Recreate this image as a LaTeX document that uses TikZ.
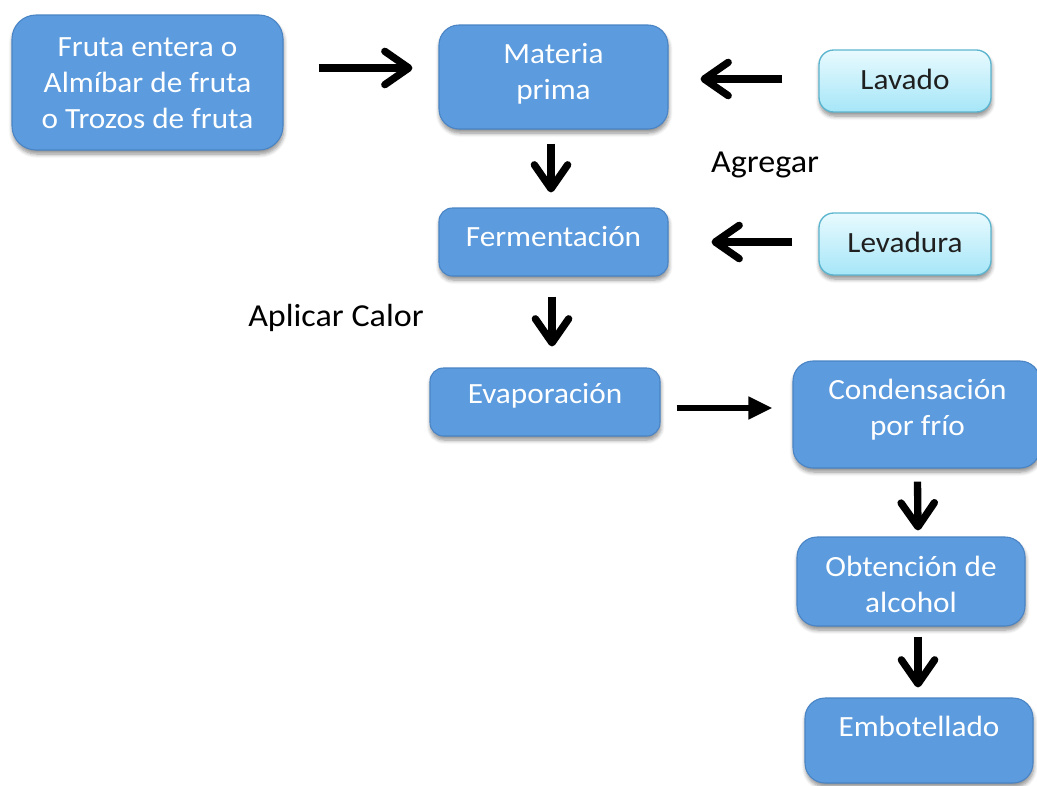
\documentclass[tikz,border=0pt]{standalone}
\usepackage{fontspec}
\setmainfont[FakeStretch=1.065]{Carlito}
\usetikzlibrary{arrows.meta,shadows.blur,fit,calc}
\definecolor{boxblue}{HTML}{5B9BDE}
\definecolor{boxedge}{HTML}{4A84C4}
\definecolor{cyantop}{HTML}{E8FAFE}
\definecolor{cyanbot}{HTML}{A6E6F8}
\definecolor{cyanedge}{HTML}{5CB5CF}
\tikzset{
  x=0.75pt, y=-0.75pt,
  boxshadow/.style={blur shadow={shadow blur steps=6, shadow blur radius=3pt, shadow yshift=-3pt, shadow xshift=0.5pt, shadow opacity=45}},
  bluebox/.style={draw=boxedge, line width=0.8pt, fill=boxblue, inner sep=0pt, boxshadow},
  cyanbox/.style={draw=cyanedge, line width=1pt, top color=cyantop, bottom color=cyanbot, inner sep=0pt, rounded corners=11pt, boxshadow},
  wtext/.style={text=white, font=\fontsize{22}{27}\selectfont, align=center, inner sep=0pt},
  btext/.style={text=black!88, font=\fontsize{22}{27}\selectfont, align=center, inner sep=0pt},
  ltext/.style={text=black, font=\fontsize{24}{29}\selectfont, align=center, inner sep=0pt},
  chev/.style={line width=5.5pt, -{Straight Barb[length=18pt, width=25pt, line cap=round, line join=round]}},
  tri/.style={line width=4.5pt, -{Triangle[length=18pt, width=16pt]}},
}
\begin{document}
\begin{tikzpicture}
\useasboundingbox (0,0) rectangle (1037,785);
% boxes
\node[bluebox, rounded corners=18pt, fit={(12,15) (283,150)}] (fruta) {};
\node[bluebox, rounded corners=15pt, fit={(439,25) (668,129)}] (materia) {};
\node[cyanbox, fit={(819,50) (991,112)}] (lavado) {};
\node[bluebox, rounded corners=10pt, fit={(439,208) (668,276)}] (ferm) {};
\node[cyanbox, fit={(819,213) (991,275)}] (levadura) {};
\node[bluebox, rounded corners=10pt, fit={(430,368) (660,436)}] (evap) {};
\node[bluebox, rounded corners=15pt, fit={(793,361) (1040,468)}] (cond) {};
\node[bluebox, rounded corners=15pt, fit={(797,537) (1025,626)}] (obt) {};
\node[bluebox, rounded corners=15pt, fit={(805,698) (1033,783)}] (emb) {};
% texts
\node[wtext] (fruta-t) at ($(fruta.center)+(0,1)$) {Fruta entera o\\Almíbar de fruta\\o Trozos de fruta};
\node[wtext] (materia-t) at ($(materia.center)+(0,-3)$) {Materia\\prima};
\node[btext] (lavado-t) at ($(lavado.center)+(0,-2)$) {Lavado};
\node[wtext] (ferm-t) at ($(ferm.center)+(0,-5)$) {Fermentación};
\node[btext] (levadura-t) at ($(levadura.center)+(0,-2)$) {Levadura};
\node[wtext] (evap-t) at ($(evap.center)+(0,-6)$) {Evaporación};
\node[wtext] (cond-t) at ($(cond.center)+(1,-5)$) {Condensación\\por frío};
\node[wtext] (obt-t) at ($(obt.center)+(0,3)$) {Obtención de\\alcohol};
\node[wtext] (emb-t) at ($(emb.center)+(0,-14)$) {Embotellado};
\node[ltext] (agregar) at (765,165) {Agregar};
\node[ltext] (calor) at (336,318) {Aplicar Calor};
% arrows
\draw[chev] ($(fruta.east)+(35,-14.5)$) -- ($(materia.west)+(-26,-9)$);
\draw[chev] ($(lavado.west)+(-36,-2)$) -- ($(materia.east)+(32,2)$);
\draw[chev] ($(materia.south)+(-2.5,14)$) -- ($(ferm.north)+(-2.5,-15)$);
\draw[chev] ($(levadura.west)+(-26,-2)$) -- ($(ferm.east)+(43,0)$);
\draw[chev] ($(ferm.south)+(-1.5,20)$) -- ($(evap.north)+(7,-21)$);
\draw[tri] ($(evap.east)+(16,6)$) -- ($(cond.west)+(-20,-6.5)$);
\draw[chev] ($(cond.south)+(1,13)$) -- ($(obt.north)+(7,-6)$);
\draw[chev] ($(obt.south)+(7,10)$) -- ($(emb.north)+(-1,-10)$);
\end{tikzpicture}
\end{document}
